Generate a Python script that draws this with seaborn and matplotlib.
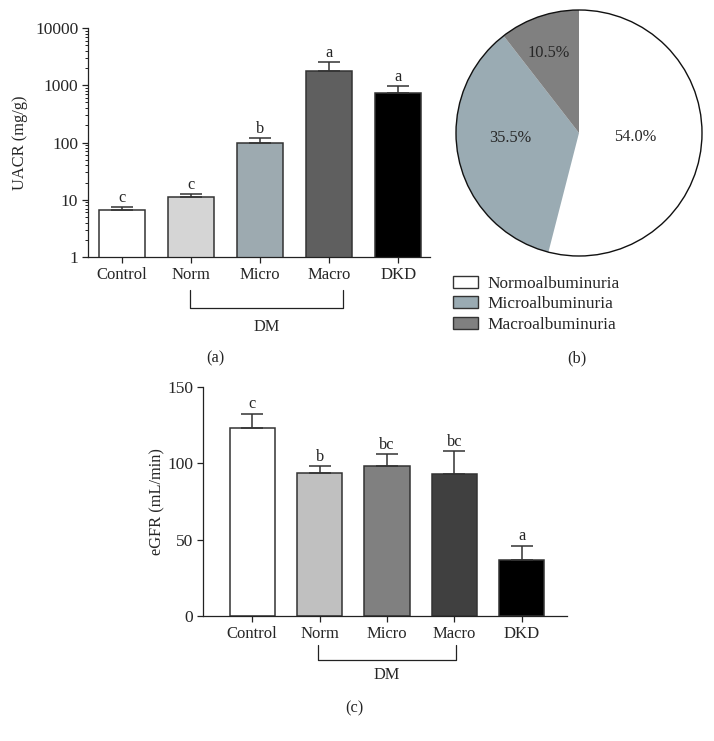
import numpy as np
import pandas as pd
import matplotlib.pyplot as plt
import matplotlib.transforms as mtransforms
import seaborn as sns
from matplotlib.patches import Patch, Circle

# dados
grupos = ["Control", "Norm", "Micro", "Macro", "DKD"]

uacr_media = [6.6, 11.0, 100, 1775, 740]
uacr_erro = [0.8, 1.4, 18, 725, 230]
uacr_letras = ["c", "c", "b", "a", "a"]
uacr_ticks = [1, 10, 100, 1000, 10000]

egfr_media = [123.3, 93.9, 98.0, 92.8, 36.5]
egfr_erro = [9.2, 4.3, 7.9, 15.2, 9.5]
egfr_letras = ["c", "b", "bc", "bc", "a"]
egfr_ticks = [0, 50, 100, 150]

pizza_rotulos = ["Normoalbuminuria", "Microalbuminuria", "Macroalbuminuria"]
pizza_pct = [54.0, 35.5, 10.5]

cores_uacr = ["#ffffff", "#d5d5d5", "#9aabb3", "#5f5f5f", "#000000"]
cores_egfr = ["#ffffff", "#c0c0c0", "#808080", "#404040", "#000000"]
cores_pizza = ["#ffffff", "#9aabb3", "#808080"]

sns.set_style("ticks")
plt.rcParams["font.family"] = ["Liberation Serif", "DejaVu Serif"]
plt.rcParams["font.size"] = 11.8
plt.rcParams["axes.linewidth"] = 0.9
plt.rcParams["axes.edgecolor"] = "#222222"

W, H = 714, 741
fig = plt.figure(figsize=(W / 100, H / 100), dpi=100)


def caixa(x0, y0, x1, y1):
    # converte pixels (origem em cima) para fracao da figura
    return [x0 / W, 1 - y1 / H, (x1 - x0) / W, (y1 - y0) / H]


def painel_barras(ax, media, erro, letras, cores, log=False):
    df = pd.DataFrame({"grupo": grupos, "valor": media})
    sns.barplot(data=df, x="grupo", y="valor", hue="grupo", palette=cores,
                legend=False, errorbar=None, width=0.67, edgecolor="#333333",
                linewidth=1.1, ax=ax)
    if log:
        ax.set_yscale("log")
    x = np.arange(len(grupos))
    ax.errorbar(x, media, yerr=[np.zeros(len(media)), erro], fmt="none",
                ecolor="#333333", elinewidth=1.1, capsize=8, capthick=1.1, zorder=1)
    for xi, m, e, l in zip(x, media, erro, letras):
        ax.annotate(l, (xi, m + e), xytext=(0, 1), textcoords="offset points",
                    ha="center", va="bottom")
    sns.despine(ax=ax)
    ax.set_xlabel("")
    ax.tick_params(axis="both", which="major", direction="out", length=4,
                   width=0.9, color="#222222", pad=3)
    ax.tick_params(axis="y", labelsize=12.5)
    ax.tick_params(axis="x", labelsize=12)


def chave(ax, x0, x1, y_top, y_bot, y_txt):
    tr = mtransforms.blended_transform_factory(ax.transData, ax.transAxes)
    ax.plot([x0, x0, x1, x1], [y_top, y_bot, y_bot, y_top], color="#222222",
            lw=0.9, transform=tr, clip_on=False)
    ax.text((x0 + x1) / 2, y_txt, "DM", transform=tr, ha="center", va="center")


# --- (a) UACR ---
ax_a = fig.add_axes(caixa(88, 28, 430, 257))
painel_barras(ax_a, uacr_media, uacr_erro, uacr_letras, cores_uacr, log=True)
ax_a.set_ylim(1, 10000)
ax_a.set_xlim(-0.49, 4.46)
ax_a.set_yticks(uacr_ticks)
ax_a.set_yticklabels([str(t) for t in uacr_ticks])
ax_a.tick_params(axis="y", which="minor", direction="out", length=2.5,
                 width=0.7, color="#222222")
ax_a.set_ylabel("UACR (mg/g)")
ax_a.yaxis.set_label_coords(-0.175, 0.5)
chave(ax_a, 0.99, 3.2, -0.144, -0.223, -0.306)

# --- (b) pizza ---
ax_b = fig.add_axes(caixa(456, 10, 702, 256))
fatias, _, pcts = ax_b.pie(pizza_pct, colors=cores_pizza, startangle=90,
                           counterclock=False, autopct="%.1f%%",
                           wedgeprops=dict(linewidth=0))
ax_b.add_patch(Circle((0, 0), 1, fill=False, edgecolor="#111111", lw=1, clip_on=False))
ax_b.set_xlim(-1, 1)
ax_b.set_ylim(-1, 1)
# posicao dos rotulos de porcentagem (fracao do raio)
pos_pct = [(0.46, -0.03), (-0.56, -0.04), (-0.25, 0.65)]
for t, p in zip(pcts, pos_pct):
    t.set_position(p)
    t.set_fontsize(11.8)

alcas = [Patch(facecolor=c, edgecolor="#333333", linewidth=1, label=l)
         for c, l in zip(cores_pizza, pizza_rotulos)]
fig.legend(handles=alcas, loc="upper left", bbox_to_anchor=(453 / W, 1 - 276 / H),
           frameon=False, borderpad=0, borderaxespad=0, handlelength=1.45,
           handleheight=0.7, handletextpad=0.55, labelspacing=0.25, fontsize=12.4)

# --- (c) eGFR ---
ax_c = fig.add_axes(caixa(203, 387, 567, 616))
painel_barras(ax_c, egfr_media, egfr_erro, egfr_letras, cores_egfr)
ax_c.set_ylim(0, 150)
ax_c.set_xlim(-0.73, 4.67)
ax_c.set_yticks(egfr_ticks)
ax_c.set_ylabel("eGFR (mL/min)")
ax_c.yaxis.set_label_coords(-0.102, 0.5)
chave(ax_c, 0.97, 3.03, -0.127, -0.192, -0.258)

fig.text(215 / W, 1 - 358 / H, "(a)", ha="center", va="center")
fig.text(577 / W, 1 - 358 / H, "(b)", ha="center", va="center")
fig.text(354 / W, 1 - 708 / H, "(c)", ha="center", va="center")

fig.savefig("out.png", dpi=100)
